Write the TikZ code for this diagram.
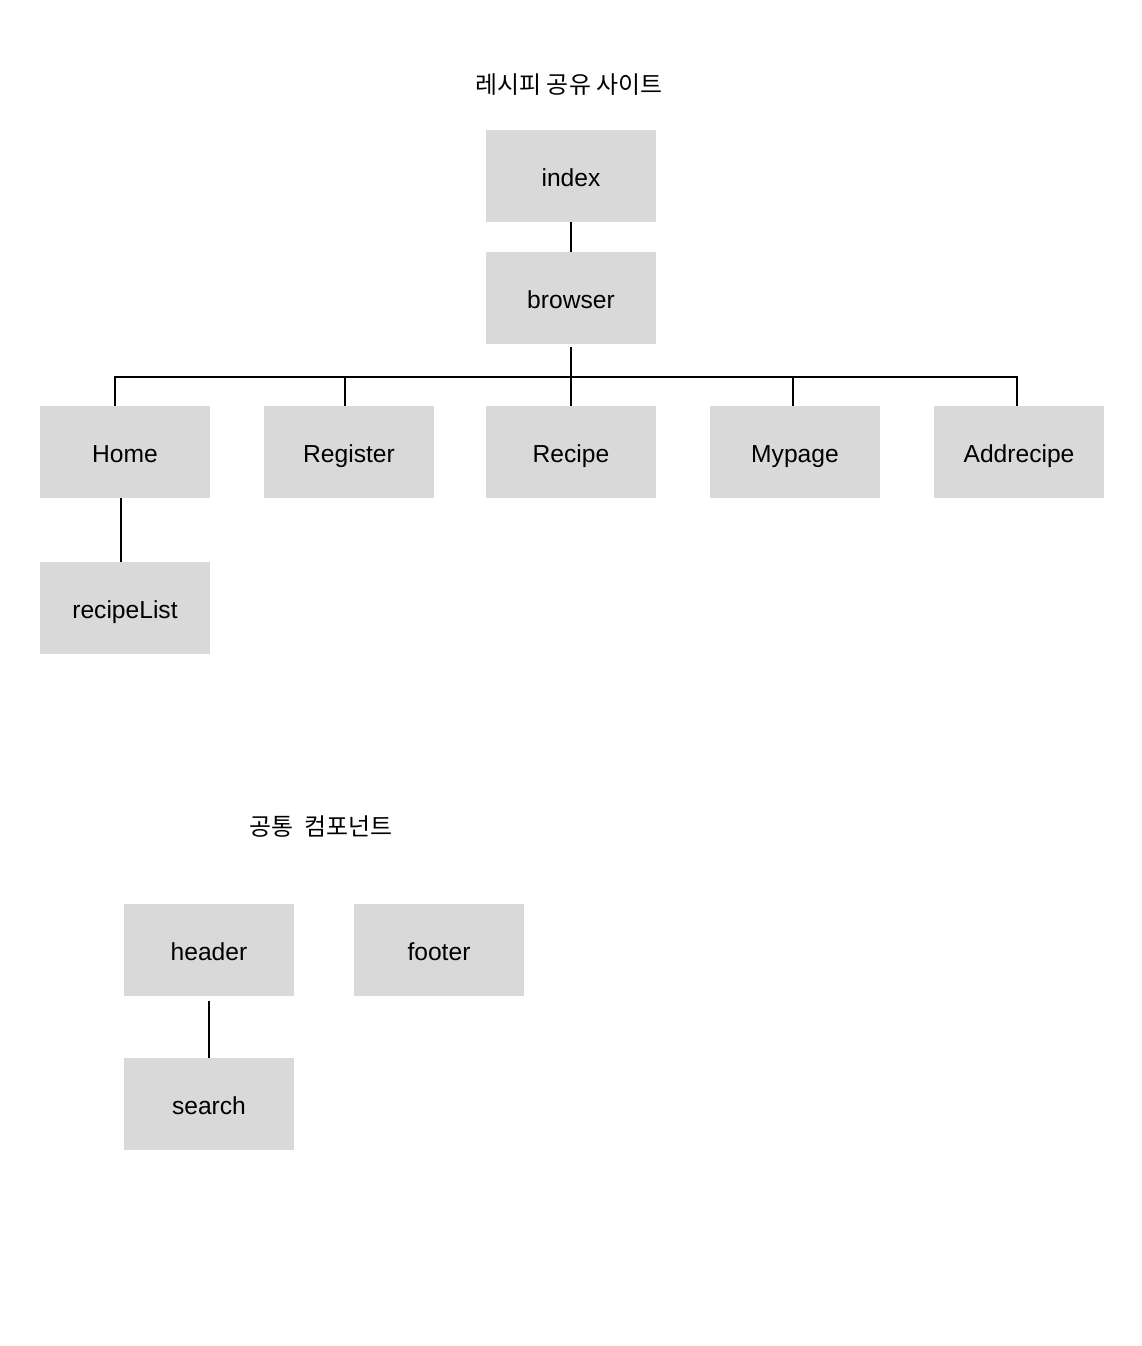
\documentclass[tikz,border=0pt]{standalone}
\usepackage{fontspec}
\setmainfont{Liberation Sans}
\newfontfamily\krfont{Noto Sans CJK KR}
\usetikzlibrary{calc}
\definecolor{boxgray}{HTML}{D9D9D9}
\tikzset{
    box/.style={fill=boxgray, rectangle, minimum height=2.3cm, minimum width=4.25cm, inner sep=0pt, text height=1.5em, text depth=0pt, font=\fontsize{17.5}{20}\selectfont},
    heading/.style={font=\krfont\fontsize{17}{20}\selectfont},
    link/.style={line width=1.4pt}
}

\begin{document}
\begin{tikzpicture}[x=0.025cm, y=-0.025cm]
    \useasboundingbox (0,0) rectangle (1142,1346);

    \node[heading] (site) at (569,85) {레시피 공유 사이트};
    \node[box] (index) at (571,176) {index};
    \node[box] (browser) at (571,298) {browser};
    \node[box] (home) at (125,452) {Home};
    \node[box] (register) at (349,452) {Register};
    \node[box] (recipe) at (571,452) {Recipe};
    \node[box] (mypage) at (795,452) {Mypage};
    \node[box] (addrecipe) at (1019,452) {Addrecipe};
    \node[box] (recipelist) at (125,608) {recipeList};

    \coordinate (bus) at (571,377);
    \draw[link] (index) -- (browser);
    \draw[link, shorten <=2pt] (browser.south) -- (bus);
    \draw[link] (bus) -| ($(home.north)+(-10,0)$);
    \draw[link] (bus) -| ($(register.north)+(-4,0)$);
    \draw[link] (bus) -- (recipe.north);
    \draw[link] (bus) -| ($(mypage.north)+(-2,0)$);
    \draw[link] (bus) -| ($(addrecipe.north)+(-2,0)$);
    \draw[link] ($(home.south)+(-4,0)$) -- ($(recipelist.north)+(-4,0)$);

    \node[heading] (common) at (321,827) {공통\ \ 컴포넌트};
    \node[box] (header) at (209,950) {header};
    \node[box] (footer) at (439,950) {footer};
    \node[box] (search) at (209,1104) {search};
    \draw[link, shorten <=3pt] (header.south) -- (search.north);
\end{tikzpicture}
\end{document}
